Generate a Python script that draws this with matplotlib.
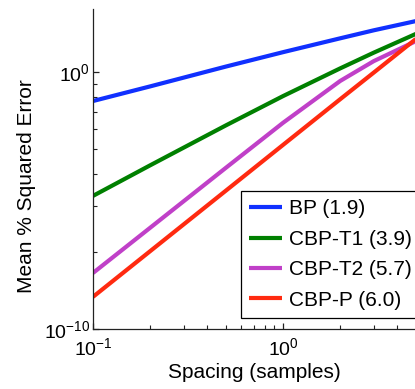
import matplotlib
matplotlib.use("Agg")
import matplotlib.pyplot as plt
import numpy as np
from matplotlib.ticker import FixedLocator, NullFormatter, LogLocator

plt.rcParams['font.family'] = ['Liberation Sans', 'DejaVu Sans']

# spacing (samples) and mean % squared error
spacing = [0.1, 0.2, 0.5, 1.0, 2.0, 3.0, 5.0]
err_bp = [7.41e-2, 2.75e-1, 1.62, 5.89, 20.4, 41.7, 95.5]
err_t1 = [1.51e-5, 2.34e-4, 8.32e-3, 1.15e-1, 1.38, 5.62, 30.2]
err_t2 = [1.51e-8, 8.71e-7, 1.86e-4, 1.05e-2, 4.47e-1, 2.63, 15.8]
err_p = [1.78e-9, 1.07e-7, 2.40e-5, 1.45e-3, 8.71e-2, 9.4e-1, 19.1]

labels = ['BP (1.9)', 'CBP-T1 (3.9)', 'CBP-T2 (5.7)', 'CBP-P (6.0)']
colors = ['#1030ff', '#008000', '#c040c8', '#ff2a10']

fig = plt.figure(figsize=(4.15, 3.89), dpi=100)
# axes runs past the right edge like the cropped original
ax = fig.add_axes([93/415, 1-329/389, 380/415, 320/389])

for y, lab, c in zip([err_bp, err_t1, err_t2, err_p], labels, colors):
    ax.plot(spacing, y, color=c, lw=3, label=lab, solid_capstyle='butt')

ax.set_xscale('log')
ax.set_yscale('log')
ax.set_xlim(0.1, 10)
ax.set_ylim(1e-10, 10**2.45)

ax.spines['top'].set_visible(False)
ax.spines['right'].set_visible(False)
for s in ['left', 'bottom']:
    ax.spines[s].set_color('#222222')
    ax.spines[s].set_linewidth(0.9)

ax.xaxis.set_major_locator(FixedLocator([0.1, 1]))
ax.xaxis.set_minor_locator(LogLocator(base=10, subs=np.arange(2, 10)))
ax.yaxis.set_major_locator(FixedLocator([1e-10, 1]))
# matlab style minor ticks over one 10-decade step
ax.yaxis.set_minor_locator(FixedLocator([1e-10 * k**10 for k in range(2, 10)]))
ax.yaxis.set_minor_formatter(NullFormatter())
ax.xaxis.set_minor_formatter(NullFormatter())

ax.tick_params(which='both', direction='in', color='#222222', labelsize=14)
ax.tick_params(which='major', length=4.5, width=0.9)
ax.tick_params(which='minor', length=3, width=0.8)
ax.tick_params(axis='y', pad=2)
ax.tick_params(axis='x', pad=6)

ax.set_xlabel('Spacing (samples)', fontsize=15)
ax.set_ylabel('Mean % Squared Error', fontsize=15)
ax.xaxis.set_label_coords(0.425, -0.106)
ax.yaxis.set_label_coords(-0.15, 0.447)

leg = ax.legend(loc='upper left', bbox_to_anchor=(241/415, 1-191/389),
                bbox_transform=fig.transFigure, fontsize=15, frameon=True,
                fancybox=False, borderaxespad=0, borderpad=0.4,
                labelspacing=0.55, handlelength=1.55, handletextpad=0.35)
leg.get_frame().set_edgecolor('black')
leg.get_frame().set_linewidth(0.9)
leg.get_frame().set_alpha(1)

fig.savefig('out.png', dpi=100)
